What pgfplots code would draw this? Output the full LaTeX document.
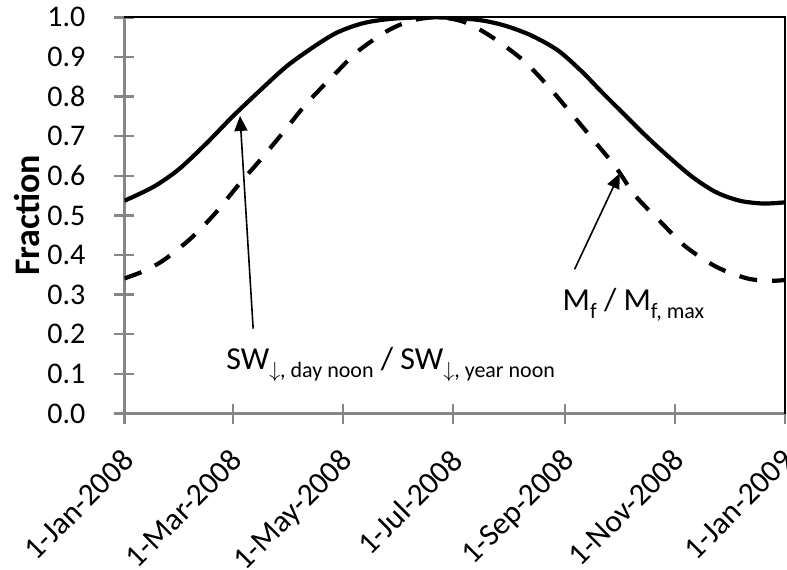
\documentclass[border=0pt]{standalone}
\usepackage{fontspec}
\setmainfont{Carlito}
\usepackage{pgfplots}
\usepackage{pgfplotstable}
\pgfplotsset{compat=1.18}
\usetikzlibrary{arrows.meta}
\definecolor{axgray}{RGB}{134,134,134}

\pgfplotstableread{
d v
0 0.537
16 0.572
30 0.616
45 0.680
60 0.750
75 0.815
90 0.877
105 0.926
118 0.962
133 0.986
150 0.997
172 1.000
195 0.994
210 0.980
225 0.955
240 0.917
253 0.865
265 0.809
278 0.750
290 0.696
302 0.646
315 0.596
328 0.558
341 0.537
354 0.530
366 0.533
}\solidtab

\pgfplotstableread{
d v
0 0.341
11 0.360
22 0.388
37 0.443
50 0.504
63 0.576
76 0.644
88 0.710
101 0.783
116 0.854
129 0.913
145 0.964
158 0.990
172 1.000
187 0.990
202 0.955
220 0.895
233 0.835
246 0.766
259 0.695
272 0.623
283 0.550
297 0.484
311 0.421
328 0.370
345 0.341
358 0.335
366 0.337
}\dashtab

\begin{document}
\begin{tikzpicture}
\begin{axis}[
  at={(0,0)}, anchor=south west,
  scale only axis, width=330.25pt, height=198.1pt,
  xmin=0, xmax=366, ymin=0, ymax=1,
  clip mode=individual,
  axis lines=left,
  axis line style={-, draw=axgray, line width=1.2pt},
  every tick/.style={draw=axgray, line width=1.2pt},
  major tick length=10pt,
  xtick align=center, ytick align=center,
  xtick={0,60,121,182,244,305,366},
  xticklabels={1-Jan-2008,1-Mar-2008,1-May-2008,1-Jul-2008,1-Sep-2008,1-Nov-2008,1-Jan-2009},
  ytick={0,0.1,...,1.0},
  /pgf/number format/assume math mode=true,
  yticklabel style={/pgf/number format/fixed, /pgf/number format/fixed zerofill, /pgf/number format/precision=1, font=\fontsize{15}{18}\selectfont, xshift=-11pt},
  xticklabel style={font=\fontsize{15.7}{19}\selectfont, xshift=-2pt, yshift=-7pt, rotate=45, anchor=north east},
  ylabel={\textbf{Fraction}},
  ylabel style={at={([xshift=-49pt]axis description cs:0,0.5)}, anchor=center, rotate=0, font=\fontsize{18}{21}\selectfont},
]
\draw[black, line width=0.85pt] (rel axis cs:0,1) -- (rel axis cs:1,1) -- (rel axis cs:1,0);
\addplot[black, line width=2.1pt, smooth] table[x=d, y=v] {\solidtab};
\addplot[black, line width=2.1pt, smooth, dash pattern=on 9pt off 7.5pt] table[x=d, y=v] {\dashtab};
\draw[black, line width=0.8pt, -{Triangle[length=7.5pt,width=6.5pt]}] (axis cs:71.3,0.214) -- (axis cs:64,0.751);
\draw[black, line width=0.8pt, -{Triangle[length=7.5pt,width=6.5pt]}] (axis cs:249.4,0.364) -- (axis cs:274.4,0.606);
\node[anchor=base west, inner sep=0pt, font=\fontsize{16}{19}\selectfont] at (axis cs:56.2,0.110)
  {SW\raisebox{-0.23em}{\fontsize{11}{13}\selectfont$\downarrow$, day noon} / SW\raisebox{-0.23em}{\fontsize{11}{13}\selectfont$\downarrow$, year noon}};
\node[anchor=base west, inner sep=0pt, font=\fontsize{16}{19}\selectfont] at (axis cs:242.6,0.259)
  {M\raisebox{-0.23em}{\fontsize{11}{13}\selectfont f} / M\raisebox{-0.23em}{\fontsize{11}{13}\selectfont f, max}};
\end{axis}
\pgfresetboundingbox
\useasboundingbox (-62.25pt,-77.75pt) rectangle (331.25pt,206.75pt);
\end{tikzpicture}
\end{document}
